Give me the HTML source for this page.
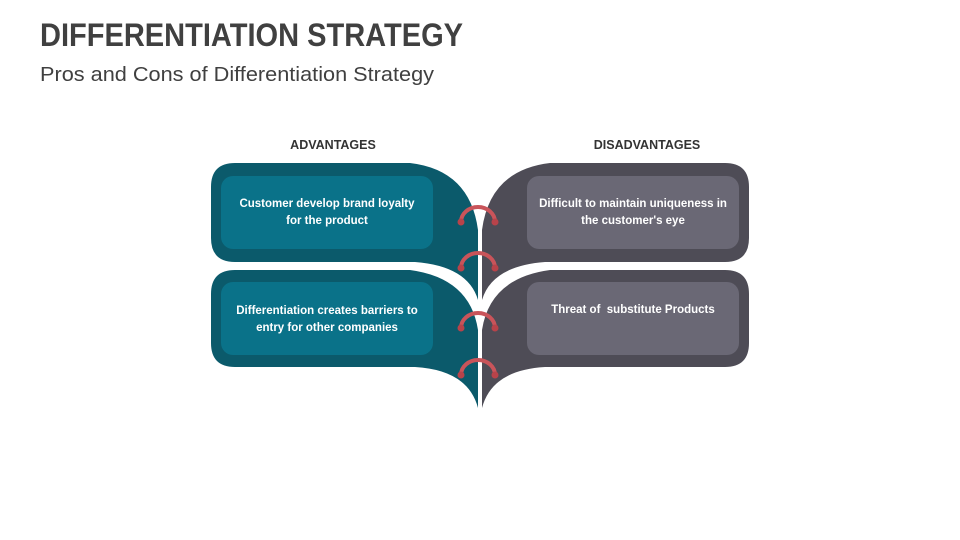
<!DOCTYPE html>
<html><head><meta charset="utf-8"><style>
html,body{margin:0;padding:0;background:#fff;}
svg{display:block;font-family:"Liberation Sans",sans-serif;}
</style></head><body>
<svg width="960" height="540" viewBox="0 0 960 540" xmlns="http://www.w3.org/2000/svg">
<text x="40" y="46" font-size="32" font-weight="bold" fill="#404040" textLength="423" lengthAdjust="spacingAndGlyphs">DIFFERENTIATION STRATEGY</text>
<text x="40" y="81" font-size="20" fill="#404040" textLength="394" lengthAdjust="spacingAndGlyphs">Pros and Cons of Differentiation Strategy</text>
<text x="333" y="149" font-size="12.5" font-weight="bold" fill="#333" text-anchor="middle">ADVANTAGES</text>
<text x="647" y="149" font-size="12.5" font-weight="bold" fill="#333" text-anchor="middle">DISADVANTAGES</text>
<path d="M235,163 H410 Q470,170 478,230 V300 Q468,266 415,262 H235 Q211,262 211,238 V187 Q211,163 235,163 Z" fill="#0b5a6b"/>
<path d="M235,270 H410 Q470,278 478,330 V408 Q468,370 415,367 H235 Q211,367 211,343 V294 Q211,270 235,270 Z" fill="#0b5a6b"/>
<path d="M725,163 H550 Q490,170 482,230 V300 Q492,266 545,262 H725 Q749,262 749,238 V187 Q749,163 725,163 Z" fill="#4e4c56"/>
<path d="M725,270 H550 Q490,278 482,330 V408 Q492,370 545,367 H725 Q749,367 749,343 V294 Q749,270 725,270 Z" fill="#4e4c56"/>
<rect x="221" y="176" width="212" height="73" rx="12" fill="#0a7289"/>
<rect x="221" y="282" width="212" height="73" rx="12" fill="#0a7289"/>
<rect x="527" y="176" width="212" height="73" rx="12" fill="#6a6875"/>
<rect x="527" y="282" width="212" height="73" rx="12" fill="#6a6875"/>
<g font-size="11.5" font-weight="bold" fill="#fff" text-anchor="middle">
<text x="327" y="207">Customer develop brand loyalty</text>
<text x="327" y="224">for the product</text>
<text x="327" y="314">Differentiation creates barriers to</text>
<text x="327" y="331">entry for other companies</text>
<text x="633" y="207">Difficult to maintain uniqueness in</text>
<text x="633" y="224">the customer's eye</text>
<text x="633" y="313" xml:space="preserve">Threat of  substitute Products</text>
</g>
<g fill="none" stroke="#c9545a" stroke-width="4">
<path d="M461,222 A17,15 0 0 1 495,222"/>
<path d="M461,268 A17,15 0 0 1 495,268"/>
<path d="M461,328 A17,15 0 0 1 495,328"/>
<path d="M461,375 A17,15 0 0 1 495,375"/>
</g>
<g fill="#b8434a">
<circle cx="461" cy="222" r="3.5"/><circle cx="495" cy="222" r="3.5"/>
<circle cx="461" cy="268" r="3.5"/><circle cx="495" cy="268" r="3.5"/>
<circle cx="461" cy="328" r="3.5"/><circle cx="495" cy="328" r="3.5"/>
<circle cx="461" cy="375" r="3.5"/><circle cx="495" cy="375" r="3.5"/>
</g>
</svg>
</body></html>
